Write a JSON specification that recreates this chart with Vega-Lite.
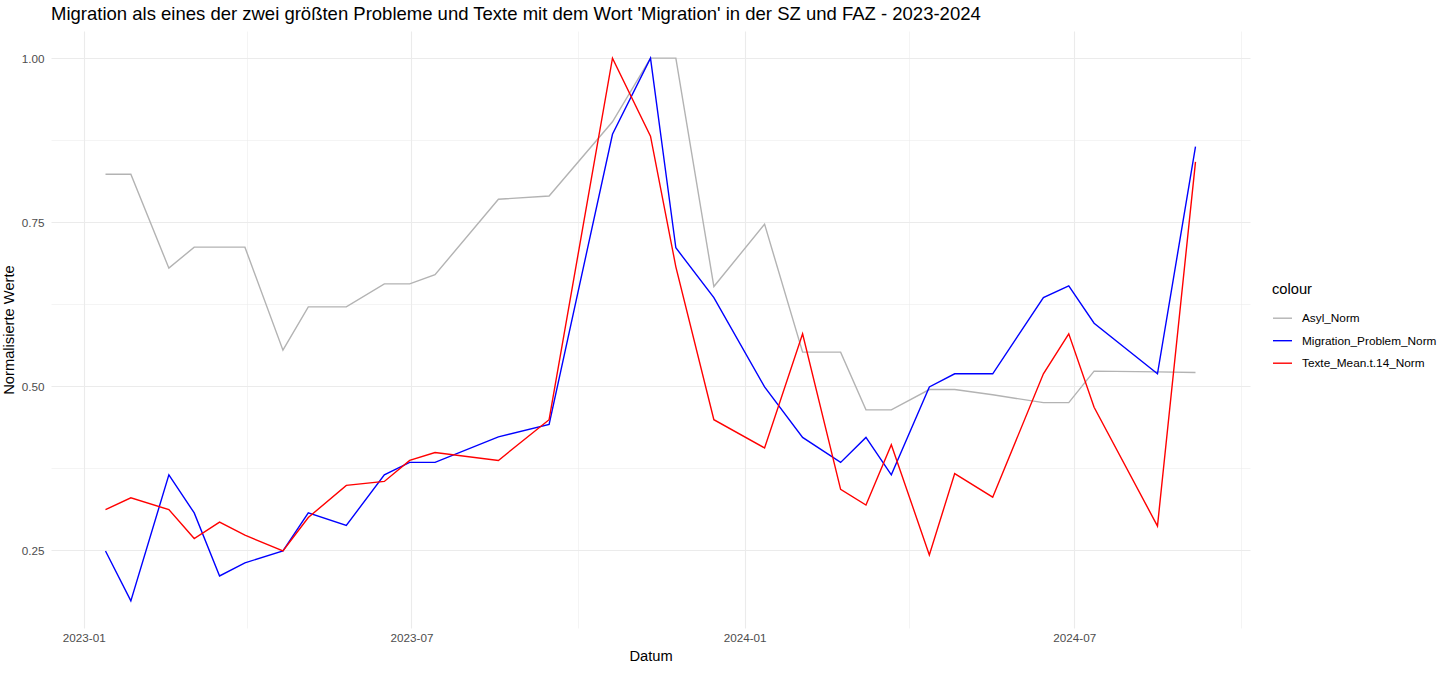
{
  "$schema": "https://vega.github.io/schema/vega-lite/v6.json",
  "width": 1199,
  "height": 597,
  "autosize": {"type": "none"},
  "padding": {"left": 51, "top": 31, "right": 206, "bottom": 45},
  "background": "white",
  "title": {
    "text": "Migration als eines der zwei größten Probleme und Texte mit dem Wort 'Migration' in der SZ und FAZ - 2023-2024",
    "anchor": "start",
    "frame": "group",
    "font": "Liberation Sans",
    "fontSize": 18.5,
    "fontWeight": "normal",
    "color": "black",
    "offset": 8
  },
  "data": {
    "values": [
      {"d": "2023-01-13", "s": "Asyl_Norm", "v": 0.823},
      {"d": "2023-01-27", "s": "Asyl_Norm", "v": 0.823},
      {"d": "2023-02-17", "s": "Asyl_Norm", "v": 0.680},
      {"d": "2023-03-03", "s": "Asyl_Norm", "v": 0.712},
      {"d": "2023-03-17", "s": "Asyl_Norm", "v": 0.712},
      {"d": "2023-03-31", "s": "Asyl_Norm", "v": 0.712},
      {"d": "2023-04-21", "s": "Asyl_Norm", "v": 0.555},
      {"d": "2023-05-05", "s": "Asyl_Norm", "v": 0.621},
      {"d": "2023-05-26", "s": "Asyl_Norm", "v": 0.621},
      {"d": "2023-06-16", "s": "Asyl_Norm", "v": 0.656},
      {"d": "2023-06-30", "s": "Asyl_Norm", "v": 0.656},
      {"d": "2023-07-14", "s": "Asyl_Norm", "v": 0.670},
      {"d": "2023-08-18", "s": "Asyl_Norm", "v": 0.785},
      {"d": "2023-09-15", "s": "Asyl_Norm", "v": 0.790},
      {"d": "2023-10-20", "s": "Asyl_Norm", "v": 0.903},
      {"d": "2023-11-10", "s": "Asyl_Norm", "v": 1.0},
      {"d": "2023-11-24", "s": "Asyl_Norm", "v": 1.0},
      {"d": "2023-12-15", "s": "Asyl_Norm", "v": 0.652},
      {"d": "2024-01-12", "s": "Asyl_Norm", "v": 0.747},
      {"d": "2024-02-02", "s": "Asyl_Norm", "v": 0.552},
      {"d": "2024-02-23", "s": "Asyl_Norm", "v": 0.552},
      {"d": "2024-03-08", "s": "Asyl_Norm", "v": 0.464},
      {"d": "2024-03-22", "s": "Asyl_Norm", "v": 0.464},
      {"d": "2024-04-12", "s": "Asyl_Norm", "v": 0.495},
      {"d": "2024-04-26", "s": "Asyl_Norm", "v": 0.495},
      {"d": "2024-05-17", "s": "Asyl_Norm", "v": 0.487},
      {"d": "2024-06-14", "s": "Asyl_Norm", "v": 0.475},
      {"d": "2024-06-28", "s": "Asyl_Norm", "v": 0.475},
      {"d": "2024-07-12", "s": "Asyl_Norm", "v": 0.523},
      {"d": "2024-08-16", "s": "Asyl_Norm", "v": 0.522},
      {"d": "2024-09-06", "s": "Asyl_Norm", "v": 0.521},
      {"d": "2023-01-13", "s": "Migration_Problem_Norm", "v": 0.249},
      {"d": "2023-01-27", "s": "Migration_Problem_Norm", "v": 0.173},
      {"d": "2023-02-17", "s": "Migration_Problem_Norm", "v": 0.365},
      {"d": "2023-03-03", "s": "Migration_Problem_Norm", "v": 0.307},
      {"d": "2023-03-17", "s": "Migration_Problem_Norm", "v": 0.211},
      {"d": "2023-03-31", "s": "Migration_Problem_Norm", "v": 0.231},
      {"d": "2023-04-21", "s": "Migration_Problem_Norm", "v": 0.249},
      {"d": "2023-05-05", "s": "Migration_Problem_Norm", "v": 0.307},
      {"d": "2023-05-26", "s": "Migration_Problem_Norm", "v": 0.288},
      {"d": "2023-06-16", "s": "Migration_Problem_Norm", "v": 0.365},
      {"d": "2023-06-30", "s": "Migration_Problem_Norm", "v": 0.384},
      {"d": "2023-07-14", "s": "Migration_Problem_Norm", "v": 0.384},
      {"d": "2023-08-18", "s": "Migration_Problem_Norm", "v": 0.423},
      {"d": "2023-09-15", "s": "Migration_Problem_Norm", "v": 0.442},
      {"d": "2023-10-20", "s": "Migration_Problem_Norm", "v": 0.884},
      {"d": "2023-11-10", "s": "Migration_Problem_Norm", "v": 1.0},
      {"d": "2023-11-24", "s": "Migration_Problem_Norm", "v": 0.711},
      {"d": "2023-12-15", "s": "Migration_Problem_Norm", "v": 0.635},
      {"d": "2024-01-12", "s": "Migration_Problem_Norm", "v": 0.499},
      {"d": "2024-02-02", "s": "Migration_Problem_Norm", "v": 0.422},
      {"d": "2024-02-23", "s": "Migration_Problem_Norm", "v": 0.384},
      {"d": "2024-03-08", "s": "Migration_Problem_Norm", "v": 0.422},
      {"d": "2024-03-22", "s": "Migration_Problem_Norm", "v": 0.365},
      {"d": "2024-04-12", "s": "Migration_Problem_Norm", "v": 0.499},
      {"d": "2024-04-26", "s": "Migration_Problem_Norm", "v": 0.519},
      {"d": "2024-05-17", "s": "Migration_Problem_Norm", "v": 0.519},
      {"d": "2024-06-14", "s": "Migration_Problem_Norm", "v": 0.635},
      {"d": "2024-06-28", "s": "Migration_Problem_Norm", "v": 0.653},
      {"d": "2024-07-12", "s": "Migration_Problem_Norm", "v": 0.596},
      {"d": "2024-08-16", "s": "Migration_Problem_Norm", "v": 0.519},
      {"d": "2024-09-06", "s": "Migration_Problem_Norm", "v": 0.865},
      {"d": "2023-01-13", "s": "Texte_Mean.t.14_Norm", "v": 0.312},
      {"d": "2023-01-27", "s": "Texte_Mean.t.14_Norm", "v": 0.330},
      {"d": "2023-02-17", "s": "Texte_Mean.t.14_Norm", "v": 0.312},
      {"d": "2023-03-03", "s": "Texte_Mean.t.14_Norm", "v": 0.268},
      {"d": "2023-03-17", "s": "Texte_Mean.t.14_Norm", "v": 0.293},
      {"d": "2023-03-31", "s": "Texte_Mean.t.14_Norm", "v": 0.273},
      {"d": "2023-04-21", "s": "Texte_Mean.t.14_Norm", "v": 0.249},
      {"d": "2023-05-05", "s": "Texte_Mean.t.14_Norm", "v": 0.300},
      {"d": "2023-05-26", "s": "Texte_Mean.t.14_Norm", "v": 0.349},
      {"d": "2023-06-16", "s": "Texte_Mean.t.14_Norm", "v": 0.355},
      {"d": "2023-06-30", "s": "Texte_Mean.t.14_Norm", "v": 0.387},
      {"d": "2023-07-14", "s": "Texte_Mean.t.14_Norm", "v": 0.399},
      {"d": "2023-08-18", "s": "Texte_Mean.t.14_Norm", "v": 0.387},
      {"d": "2023-09-15", "s": "Texte_Mean.t.14_Norm", "v": 0.449},
      {"d": "2023-10-20", "s": "Texte_Mean.t.14_Norm", "v": 1.0},
      {"d": "2023-11-10", "s": "Texte_Mean.t.14_Norm", "v": 0.881},
      {"d": "2023-11-24", "s": "Texte_Mean.t.14_Norm", "v": 0.682},
      {"d": "2023-12-15", "s": "Texte_Mean.t.14_Norm", "v": 0.449},
      {"d": "2024-01-12", "s": "Texte_Mean.t.14_Norm", "v": 0.406},
      {"d": "2024-02-02", "s": "Texte_Mean.t.14_Norm", "v": 0.580},
      {"d": "2024-02-23", "s": "Texte_Mean.t.14_Norm", "v": 0.343},
      {"d": "2024-03-08", "s": "Texte_Mean.t.14_Norm", "v": 0.319},
      {"d": "2024-03-22", "s": "Texte_Mean.t.14_Norm", "v": 0.411},
      {"d": "2024-04-12", "s": "Texte_Mean.t.14_Norm", "v": 0.243},
      {"d": "2024-04-26", "s": "Texte_Mean.t.14_Norm", "v": 0.367},
      {"d": "2024-05-17", "s": "Texte_Mean.t.14_Norm", "v": 0.331},
      {"d": "2024-06-14", "s": "Texte_Mean.t.14_Norm", "v": 0.519},
      {"d": "2024-06-28", "s": "Texte_Mean.t.14_Norm", "v": 0.580},
      {"d": "2024-07-12", "s": "Texte_Mean.t.14_Norm", "v": 0.468},
      {"d": "2024-08-16", "s": "Texte_Mean.t.14_Norm", "v": 0.287},
      {"d": "2024-09-06", "s": "Texte_Mean.t.14_Norm", "v": 0.842}
    ]
  },
  "mark": {"type": "line", "strokeWidth": 1.4},
  "encoding": {
    "x": {
      "field": "d",
      "type": "temporal",
      "title": "Datum",
      "scale": {
        "type": "utc",
        "domain": [
          {"year": 2022, "month": 12, "date": 13, "hours": 21, "minutes": 36, "utc": true},
          {"year": 2024, "month": 10, "date": 6, "hours": 2, "minutes": 24, "utc": true}
        ]
      },
      "axis": {
        "values": [
          {"year": 2023, "month": 1, "date": 1, "utc": true},
          {"year": 2023, "month": 4, "date": 1, "utc": true},
          {"year": 2023, "month": 7, "date": 1, "utc": true},
          {"year": 2023, "month": 10, "date": 1, "utc": true},
          {"year": 2024, "month": 1, "date": 1, "utc": true},
          {"year": 2024, "month": 4, "date": 1, "utc": true},
          {"year": 2024, "month": 7, "date": 1, "utc": true},
          {"year": 2024, "month": 10, "date": 1, "utc": true}
        ],
        "labelExpr": "(utcmonth(datum.value) % 6 == 0) ? utcFormat(datum.value, '%Y-%m') : ''",
        "gridWidth": {"condition": {"test": "utcmonth(datum.value) % 6 == 0", "value": 1.1}, "value": 0.55},
        "labelPadding": 4,
        "titlePadding": 5
      }
    },
    "y": {
      "field": "v",
      "type": "quantitative",
      "title": "Normalisierte Werte",
      "scale": {"domain": [0.13165, 1.04135], "nice": false, "zero": false},
      "axis": {
        "values": [0.25, 0.375, 0.5, 0.625, 0.75, 0.875, 1.0],
        "labelExpr": "(datum.value * 4) % 1 == 0 ? format(datum.value, '.2f') : ''",
        "gridWidth": {"condition": {"test": "(datum.value * 4) % 1 == 0", "value": 1.1}, "value": 0.55},
        "labelPadding": 7,
        "titlePadding": 5
      }
    },
    "color": {
      "field": "s",
      "type": "nominal",
      "title": "colour",
      "scale": {
        "domain": ["Asyl_Norm", "Migration_Problem_Norm", "Texte_Mean.t.14_Norm"],
        "range": ["#B3B3B3", "#0000FF", "#FF0000"]
      },
      "legend": {
        "orient": "none",
        "legendX": 1221,
        "legendY": 251,
        "symbolType": "stroke",
        "symbolSize": 361,
        "symbolStrokeWidth": 1.4,
        "labelOffset": 9,
        "rowPadding": 4.5,
        "titlePadding": 11,
        "padding": 0
      }
    }
  },
  "config": {
    "view": {"stroke": null},
    "font": "Liberation Sans",
    "axis": {
      "domain": false,
      "ticks": false,
      "tickSize": 0,
      "grid": true,
      "gridColor": "#EBEBEB",
      "labelFont": "Liberation Sans",
      "labelFontSize": 11.7,
      "labelColor": "#4D4D4D",
      "titleFont": "Liberation Sans",
      "titleFontSize": 14.7,
      "titleFontWeight": "normal",
      "titleColor": "black"
    },
    "legend": {
      "labelFont": "Liberation Sans",
      "labelFontSize": 11.8,
      "labelColor": "black",
      "titleFont": "Liberation Sans",
      "titleFontSize": 14.7,
      "titleFontWeight": "normal",
      "titleColor": "black"
    }
  }
}
